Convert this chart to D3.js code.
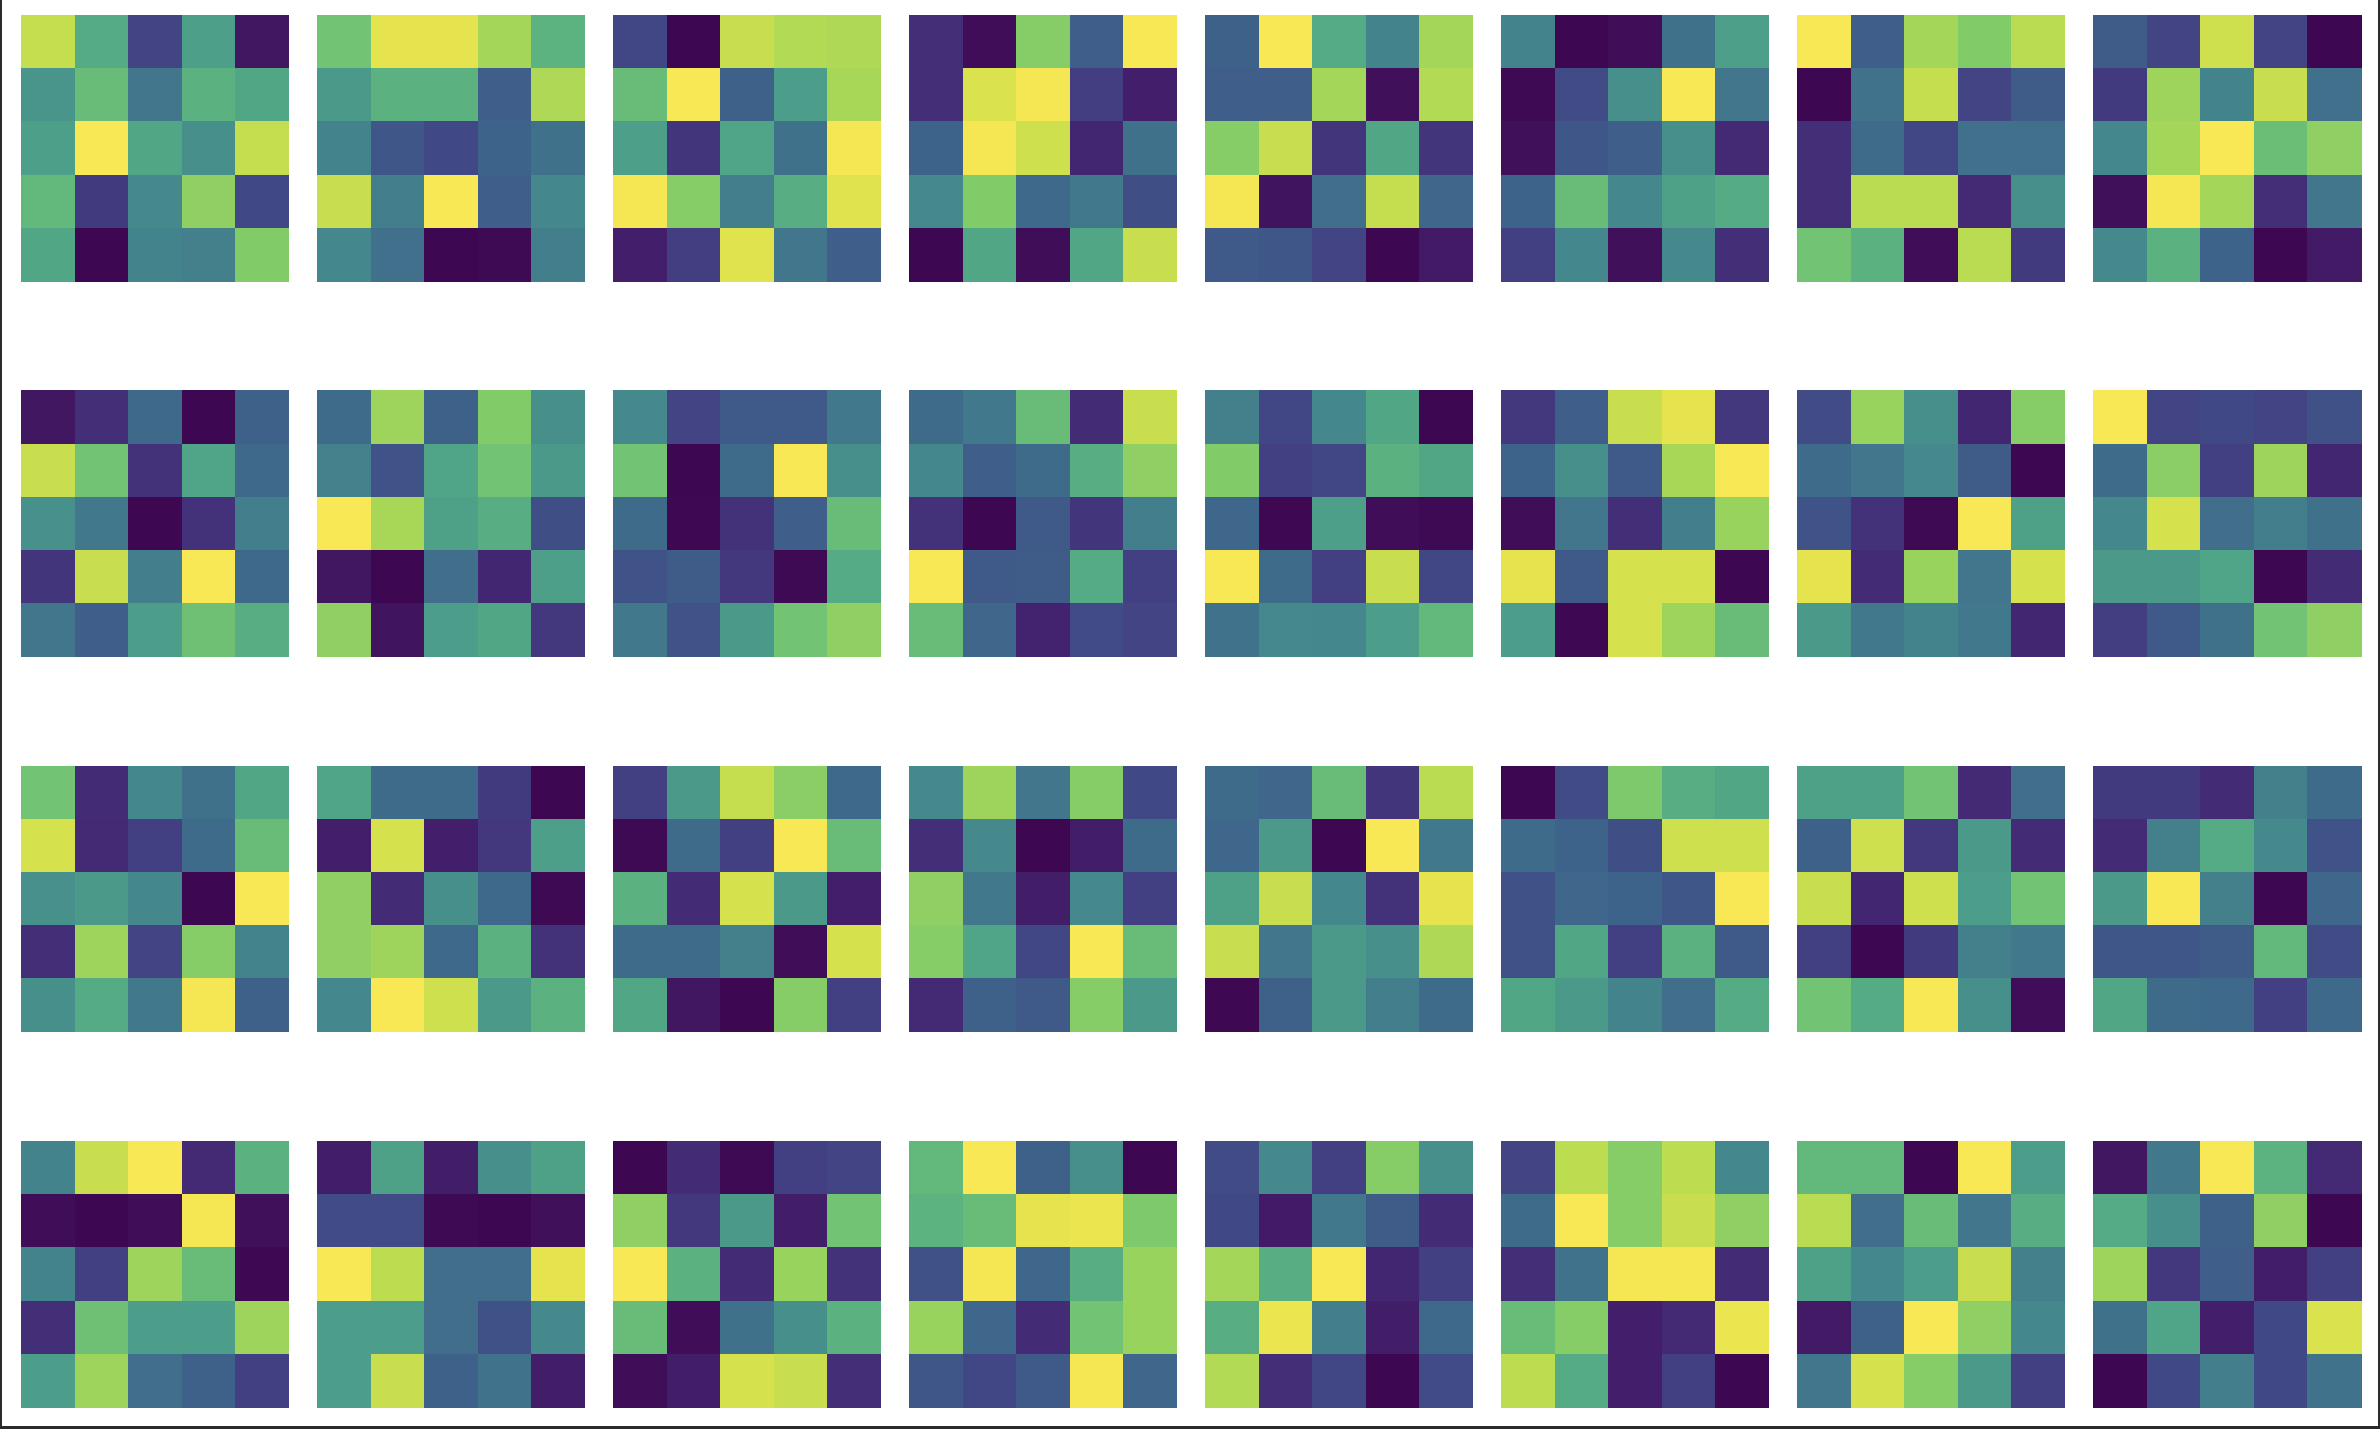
<!DOCTYPE html>
<html>
<head>
<meta charset="utf-8">
<script src="https://cdn.jsdelivr.net/npm/d3@7"></script>
<style>
  html, body { margin: 0; padding: 0; background: #fff; }
  svg { display: block; }
</style>
</head>
<body>
<script>
// 4 x 8 grid of small 5x5 heatmaps, each normalised on its own (viridis)

// panel row 1 (top), 8 panels, each 5 rows x 5 cols
var panelRow1 = [
  [[0.90,0.62,0.20,0.57,0.05],[0.53,0.70,0.40,0.65,0.60],[0.57,1.00,0.60,0.50,0.90],[0.68,0.17,0.48,0.80,0.22],[0.60,0.00,0.46,0.44,0.77]],
  [[0.73,0.96,0.96,0.84,0.66],[0.55,0.65,0.65,0.30,0.86],[0.46,0.27,0.22,0.32,0.38],[0.91,0.43,1.00,0.30,0.47],[0.47,0.37,0.00,0.01,0.43]],
  [[0.21,0.00,0.91,0.87,0.86],[0.70,1.00,0.31,0.56,0.85],[0.57,0.15,0.59,0.38,0.99],[0.99,0.78,0.43,0.64,0.95],[0.08,0.18,0.95,0.40,0.30]],
  [[0.13,0.02,0.78,0.30,1.00],[0.13,0.94,0.99,0.18,0.08],[0.32,0.99,0.92,0.10,0.38],[0.48,0.77,0.34,0.41,0.24],[0.00,0.60,0.02,0.60,0.91]],
  [[0.31,1.00,0.62,0.46,0.84],[0.30,0.30,0.84,0.03,0.87],[0.78,0.91,0.15,0.60,0.15],[0.99,0.04,0.36,0.90,0.33],[0.28,0.27,0.20,0.00,0.06]],
  [[0.46,0.00,0.02,0.38,0.57],[0.01,0.23,0.50,1.00,0.40],[0.03,0.27,0.30,0.50,0.11],[0.32,0.70,0.47,0.58,0.62],[0.19,0.47,0.03,0.48,0.13]],
  [[1.00,0.30,0.84,0.77,0.88],[0.00,0.39,0.90,0.20,0.29],[0.13,0.35,0.21,0.37,0.37],[0.13,0.88,0.88,0.11,0.50],[0.73,0.65,0.02,0.88,0.17]],
  [[0.29,0.20,0.92,0.20,0.00],[0.17,0.83,0.46,0.91,0.37],[0.47,0.84,1.00,0.71,0.80],[0.03,0.99,0.84,0.13,0.40],[0.48,0.65,0.32,0.00,0.06]]
];

// panel row 2
var panelRow2 = [
  [[0.05,0.13,0.34,0.00,0.31],[0.91,0.73,0.14,0.59,0.34],[0.51,0.41,0.00,0.14,0.43],[0.15,0.91,0.43,1.00,0.34],[0.40,0.30,0.56,0.72,0.64]],
  [[0.35,0.83,0.31,0.77,0.50],[0.45,0.26,0.59,0.73,0.55],[1.00,0.85,0.58,0.64,0.24],[0.05,0.00,0.36,0.10,0.57],[0.80,0.04,0.56,0.60,0.16]],
  [[0.48,0.20,0.28,0.28,0.41],[0.73,0.00,0.35,1.00,0.50],[0.35,0.005,0.14,0.30,0.70],[0.26,0.29,0.16,0.01,0.62],[0.41,0.26,0.55,0.73,0.80]],
  [[0.35,0.41,0.70,0.12,0.91],[0.47,0.30,0.35,0.64,0.80],[0.14,0.00,0.28,0.15,0.43],[1.00,0.28,0.29,0.62,0.19],[0.70,0.33,0.09,0.23,0.20]],
  [[0.44,0.21,0.47,0.60,0.00],[0.77,0.19,0.21,0.65,0.60],[0.33,0.005,0.57,0.02,0.01],[1.00,0.35,0.19,0.91,0.21],[0.39,0.48,0.47,0.56,0.68]],
  [[0.16,0.30,0.91,0.96,0.16],[0.32,0.50,0.28,0.85,1.00],[0.02,0.40,0.13,0.43,0.82],[0.96,0.28,0.93,0.93,0.00],[0.56,0.005,0.93,0.83,0.70]],
  [[0.23,0.82,0.50,0.10,0.78],[0.35,0.40,0.48,0.29,0.00],[0.26,0.14,0.01,1.00,0.58],[0.96,0.12,0.82,0.40,0.93],[0.55,0.41,0.46,0.41,0.10]],
  [[1.00,0.20,0.22,0.20,0.25],[0.35,0.79,0.19,0.83,0.10],[0.47,0.93,0.36,0.43,0.38],[0.55,0.55,0.59,0.00,0.12],[0.18,0.28,0.38,0.73,0.80]]
];

// panel row 3
var panelRow3 = [
  [[0.73,0.12,0.47,0.38,0.60],[0.93,0.11,0.19,0.35,0.70],[0.51,0.55,0.47,0.00,1.00],[0.13,0.83,0.20,0.78,0.46],[0.50,0.62,0.41,0.99,0.31]],
  [[0.59,0.35,0.35,0.17,0.00],[0.08,0.93,0.08,0.16,0.57],[0.80,0.12,0.50,0.34,0.01],[0.80,0.83,0.34,0.65,0.14],[0.47,1.00,0.92,0.55,0.65]],
  [[0.19,0.55,0.90,0.79,0.34],[0.01,0.35,0.19,1.00,0.70],[0.65,0.12,0.93,0.55,0.08],[0.35,0.35,0.44,0.02,0.93],[0.60,0.05,0.00,0.78,0.19]],
  [[0.48,0.83,0.40,0.78,0.22],[0.13,0.48,0.00,0.07,0.35],[0.80,0.41,0.07,0.48,0.19],[0.78,0.59,0.21,1.00,0.70],[0.11,0.31,0.28,0.78,0.55]],
  [[0.35,0.33,0.70,0.15,0.88],[0.33,0.55,0.00,1.00,0.41],[0.58,0.91,0.47,0.14,0.96],[0.91,0.40,0.55,0.50,0.86],[0.005,0.31,0.55,0.43,0.35]],
  [[0.00,0.23,0.76,0.64,0.60],[0.35,0.32,0.24,0.92,0.92],[0.25,0.33,0.32,0.27,1.00],[0.25,0.60,0.19,0.65,0.28],[0.60,0.55,0.46,0.36,0.62]],
  [[0.58,0.58,0.73,0.11,0.36],[0.31,0.92,0.16,0.55,0.12],[0.91,0.10,0.92,0.56,0.73],[0.19,0.00,0.17,0.44,0.41],[0.73,0.62,1.00,0.50,0.02]],
  [[0.17,0.17,0.12,0.44,0.35],[0.12,0.44,0.62,0.48,0.26],[0.55,1.00,0.44,0.00,0.33],[0.27,0.27,0.29,0.68,0.23],[0.60,0.35,0.34,0.19,0.34]]
];

// panel row 4 (bottom)
var panelRow4 = [
  [[0.46,0.91,1.00,0.11,0.65],[0.02,0.00,0.02,0.99,0.03],[0.46,0.19,0.83,0.70,0.005],[0.13,0.72,0.56,0.56,0.83],[0.56,0.83,0.36,0.31,0.19]],
  [[0.07,0.58,0.07,0.50,0.58],[0.23,0.23,0.01,0.00,0.03],[1.00,0.89,0.36,0.36,0.96],[0.56,0.56,0.36,0.25,0.48],[0.56,0.91,0.31,0.39,0.07]],
  [[0.00,0.12,0.01,0.19,0.20],[0.80,0.16,0.55,0.07,0.73],[1.00,0.65,0.12,0.82,0.14],[0.70,0.02,0.38,0.50,0.65],[0.02,0.07,0.93,0.91,0.13]],
  [[0.68,1.00,0.31,0.50,0.00],[0.66,0.70,0.96,0.97,0.76],[0.25,0.99,0.33,0.64,0.82],[0.82,0.33,0.12,0.73,0.82],[0.27,0.21,0.28,0.99,0.33]],
  [[0.23,0.48,0.19,0.78,0.50],[0.22,0.06,0.41,0.29,0.12],[0.84,0.64,1.00,0.10,0.19],[0.64,0.97,0.43,0.07,0.34],[0.87,0.13,0.21,0.00,0.23]],
  [[0.20,0.89,0.78,0.89,0.47],[0.35,1.00,0.78,0.91,0.80],[0.13,0.39,0.99,0.99,0.12],[0.70,0.78,0.08,0.11,0.97],[0.89,0.62,0.08,0.19,0.00]],
  [[0.68,0.68,0.00,1.00,0.56],[0.88,0.36,0.70,0.40,0.64],[0.58,0.47,0.56,0.91,0.44],[0.06,0.31,1.00,0.80,0.47],[0.40,0.93,0.78,0.55,0.19]],
  [[0.05,0.41,1.00,0.66,0.11],[0.62,0.50,0.31,0.80,0.00],[0.83,0.16,0.30,0.07,0.19],[0.38,0.59,0.08,0.22,0.94],[0.00,0.22,0.43,0.22,0.39]]
];

var panelRows = [panelRow1, panelRow2, panelRow3, panelRow4];
var cellIndex = [0, 1, 2, 3, 4];

var width = 2380,
    height = 1429;

// the reference looks like viridis shown through a wide-gamut profile,
// so re-express the sRGB colour in Display P3 numbers (a bit washed out)
function washed(c) {
    c = d3.rgb(c);
    var lin = [c.r, c.g, c.b].map(function(v) {
        v = v / 255;
        return v <= 0.04045 ? v / 12.92 : Math.pow((v + 0.055) / 1.055, 2.4);
    });
    var p3 = [
        0.8225 * lin[0] + 0.1774 * lin[1],
        0.0332 * lin[0] + 0.9669 * lin[1],
        0.0171 * lin[0] + 0.0724 * lin[1] + 0.9108 * lin[2]
    ].map(function(v) {
        v = v <= 0.0031308 ? v * 12.92 : 1.055 * Math.pow(v, 1 / 2.4) - 0.055;
        return Math.round(Math.max(0, Math.min(1, v)) * 255);
    });
    return d3.rgb(p3[0], p3[1], p3[2]).formatHex();
}

var svg = d3.select("body").append("svg")
    .attr("width", width)
    .attr("height", height);

// where each panel goes
var col = d3.scaleBand()
    .domain(d3.range(8))
    .range([21, 2361])
    .paddingInner(0.0946);

var row = d3.scaleBand()
    .domain(d3.range(4))
    .range([15, 1407])
    .paddingInner(0.2912);

// cells inside one panel
var cx = d3.scaleBand().domain(cellIndex).range([0, col.bandwidth()]);
var cy = d3.scaleBand().domain(cellIndex).range([0, row.bandwidth()]);

panelRows.forEach(function(panels, r) {
    panels.forEach(function(grid, c) {
        var flat = [];
        grid.forEach(function(line, i) {
            line.forEach(function(v, j) { flat.push({i: i, j: j, v: v}); });
        });

        // every panel has its own colour range, like imshow does
        var color = d3.scaleSequential(d3.interpolateViridis)
            .domain(d3.extent(flat, function(d) { return d.v; }));

        var g = svg.append("g")
            .attr("transform", "translate(" + col(c) + "," + row(r) + ")");

        g.selectAll("rect")
            .data(flat)
            .enter().append("rect")
            .attr("x", function(d) { return cx(d.j); })
            .attr("y", function(d) { return cy(d.i); })
            .attr("width", cx.bandwidth() + 0.5)
            .attr("height", cy.bandwidth() + 0.5)
            .attr("shape-rendering", "crispEdges")
            .attr("fill", function(d) { return washed(color(d.v)); });
    });
});

// dark frame lines on left, right and bottom edge of the image
svg.append("rect").attr("x", 0).attr("y", 0).attr("width", 2).attr("height", height).attr("fill", "#2b2b2b");
svg.append("rect").attr("x", width - 2).attr("y", 0).attr("width", 2).attr("height", height).attr("fill", "#2b2b2b");
svg.append("rect").attr("x", 0).attr("y", height - 3).attr("width", width).attr("height", 3).attr("fill", "#2b2b2b");
</script>
</body>
</html>
